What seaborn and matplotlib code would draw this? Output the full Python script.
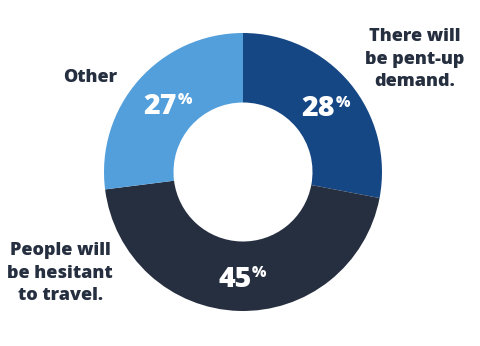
import numpy as np
import matplotlib
matplotlib.use("Agg")
import matplotlib.pyplot as plt
import seaborn as sns

categories = ["There will\nbe pent-up\ndemand.", "People will\nbe hesitant\nto travel.", "Other"]
values = [28, 45, 27]
colors = ["#164785", "#262f40", "#529fdc"]
text_color = "#262f40"

sns.set_theme(style="white")
plt.rcParams['font.family'] = ['Open Sans', 'DejaVu Sans']

W, H = 480, 346
fig = plt.figure(figsize=(W / 100, H / 100), dpi=100)
ax = fig.add_axes([0, 0, 1, 1])
cx, cy, R = 243, 172, 139

wedges, _ = ax.pie(values, colors=colors, startangle=90, counterclock=False,
                   radius=R, wedgeprops=dict(width=R * 0.5, linewidth=0),
                   center=(0, 0), frame=True)
ax.set_xlim(-cx, W - cx)
ax.set_ylim(-(H - cy), cy)
ax.set_aspect('equal')
ax.axis('off')

# percentage labels
total = sum(values)
start = 90.0
r_lab = R * 0.75
for v in values:
    span = 360.0 * v / total
    mid = np.deg2rad(start - span / 2)
    x, y = r_lab * np.cos(mid), r_lab * np.sin(mid)
    anchor = x + 12
    ax.text(anchor, y - 3, f"{v}", ha='right', va='center', color='white',
            fontsize=20.5, fontweight='heavy')
    ax.text(anchor + 0.5, y + 3, "%", ha='left', va='center', color='white',
            fontsize=11, fontweight='heavy')
    start -= span

# category labels
label_pos = [(415 - cx, cy - 58), (60 - cx, cy - 272), (90 - cx, cy - 76)]
for txt, (lx, ly) in zip(categories, label_pos):
    ax.text(lx, ly - 1, txt, ha='center', va='center', color=text_color,
            fontsize=13, fontweight='heavy', linespacing=1.45)

fig.savefig("out.png", dpi=100)
